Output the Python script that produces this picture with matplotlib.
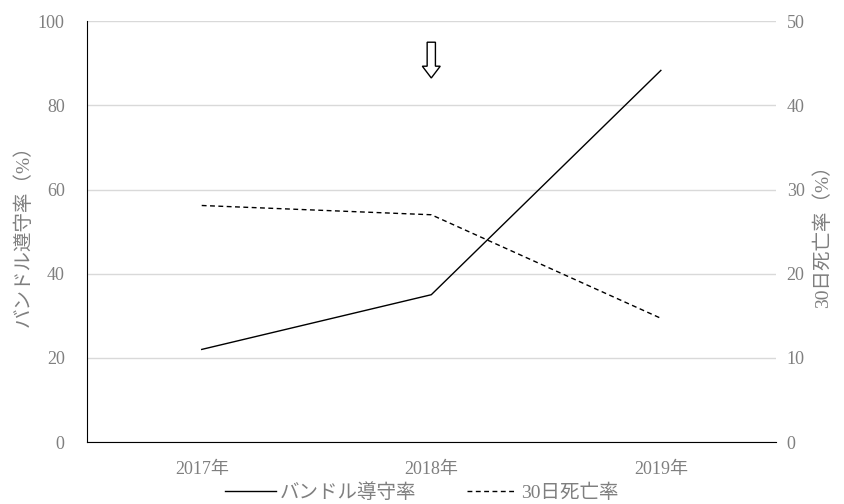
import matplotlib
matplotlib.use("Agg")
import matplotlib.pyplot as plt
import matplotlib.patches as mpatches

plt.rcParams['font.family'] = ['Liberation Serif', 'Noto Sans CJK JP']

years = ["2017年", "2018年", "2019年"]
bundle = [22, 35, 88.3]
mortality = [28.1, 27.0, 14.7]
left_ticks = [0, 20, 40, 60, 80, 100]
right_ticks = [0, 10, 20, 30, 40, 50]

gray = "#7f7f7f"
fs = 13
fig = plt.figure(figsize=(8.44, 5.04), dpi=100)
ax = fig.add_axes([0.103, 0.123, 0.816, 0.835])
ax2 = ax.twinx()

x = list(range(len(years)))
l1, = ax.plot(x, bundle, color="black", lw=1.0, label="バンドル導守率")
l2, = ax2.plot(x, mortality, color="black", lw=1.0, ls=(0, (3.5, 2.5)), label="30日死亡率")

ax.set_xlim(-0.5, 2.5)
ax.set_ylim(0, 100)
ax2.set_ylim(0, 50)
ax.set_yticks(left_ticks)
ax2.set_yticks(right_ticks)
ax.set_xticks(x)
ax.set_xticklabels(years)
ax.grid(axis="y", color="#d9d9d9", lw=1)
ax.set_axisbelow(True)

for a in (ax, ax2):
    for s in ("top", "right"):
        a.spines[s].set_visible(False)
    a.tick_params(colors=gray, labelsize=fs, length=0)
ax2.spines["left"].set_visible(False)
ax2.spines["bottom"].set_visible(False)
ax.spines["left"].set_color("black")
ax.spines["bottom"].set_color("black")
ax.tick_params(axis="y", pad=16)
ax2.tick_params(axis="y", pad=8)
ax.tick_params(axis="x", pad=14)

ax.set_ylabel("バンドル遵守率（%）", color=gray, fontsize=14, labelpad=4)
ax2.set_ylabel("30日死亡率（%）", color=gray, fontsize=14, labelpad=6)

arrow = mpatches.FancyArrow(1, 95, 0, -8.5, width=0.036, head_width=0.078,
                            head_length=2.8, length_includes_head=True,
                            facecolor="white", edgecolor="black", lw=1.0)
ax.add_patch(arrow)

leg = fig.legend(handles=[l1, l2], loc="lower center", ncol=2, frameon=False,
                 bbox_to_anchor=(0.5, -0.03), fontsize=14, handlelength=2.6,
                 columnspacing=2.6, handletextpad=0.2)
for t in leg.get_texts():
    t.set_color(gray)

fig.savefig("out.png", dpi=100)
